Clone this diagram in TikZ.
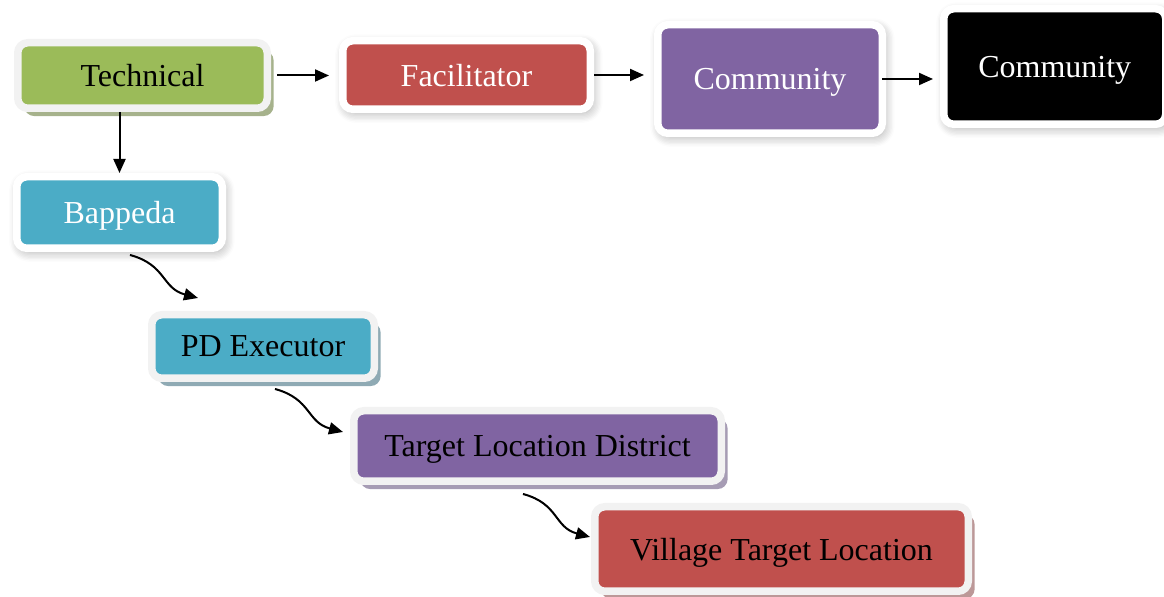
\documentclass[tikz,border=0pt]{standalone}
\usepackage{fontspec}
\setmainfont{Liberation Serif}
\usepackage{tikz}
\usetikzlibrary{
  shadows,               % Drop shadows under the boxes
  shadows.blur,          % Soft shadows under the white frames
  arrows.meta            % Triangle arrow tips
}

\definecolor{techgreen}{HTML}{9BBB59}
\definecolor{techshade}{RGB}{166,178,140}
\definecolor{seablue}{HTML}{4BACC6}
\definecolor{seashade}{RGB}{143,170,180}
\definecolor{brickred}{HTML}{C0504D}
\definecolor{brickshade}{RGB}{188,152,152}
\definecolor{lavender}{HTML}{8064A2}
\definecolor{lavshade}{RGB}{166,156,180}
\definecolor{framegrey}{HTML}{F2F2F2}

\tikzset{
  box/.style={rounded corners=5pt, line width=3.75pt, inner sep=0pt, text depth=0pt,
    font=\fontsize{16}{19}\selectfont},
  greybox/.style={box, draw=framegrey,
    drop shadow={shadow xshift=3.2pt, shadow yshift=-3.9pt, fill=#1, opacity=1}},
  whitebox/.style={box, draw=white,
    blur shadow={shadow xshift=1.2pt, shadow yshift=-1.8pt, shadow blur radius=5pt,
      shadow blur steps=8, shadow opacity=35}},
  flow/.style={-{Triangle[length=7pt,width=6pt]}, line width=1pt}
}

\begin{document}
\begin{tikzpicture}[x=0.5pt, y=-0.5pt]
        \useasboundingbox (0,0) rectangle (1164,597);

        % Top row
        \node[greybox=techshade, fill=techgreen, minimum width=124.75pt, minimum height=32.75pt]
            (tech) at (142.5,75.5) {Technical};
        \node[whitebox, fill=brickred, text=white, minimum width=123.75pt, minimum height=34.25pt]
            (facil) at (466.5,75) {Facilitator};
        \node[whitebox, fill=lavender, text=white, minimum width=112.25pt, minimum height=54.25pt]
            (comm) at (770,79) {Community};
        \node[whitebox, fill=black, text=white, minimum width=111pt, minimum height=57.75pt]
            (commend) at (1054.75,66.5) {Community};

        % Staircase of boxes
        \node[whitebox, fill=seablue, text=white, minimum width=102.75pt, minimum height=35.75pt]
            (bappeda) at (119.5,212.5) {Bappeda};
        \node[greybox=seashade, fill=seablue, minimum width=111.25pt, minimum height=31.75pt]
            (pd) at (263,346.5) {PD Executor};
        \node[greybox=lavshade, fill=lavender, minimum width=183.75pt, minimum height=35.25pt]
            (district) at (537.5,446) {Target Location District};
        \node[greybox=brickshade, fill=brickred, minimum width=186.75pt, minimum height=42.25pt]
            (village) at (781.5,549) {Village Target Location};

        % Straight arrows
        \draw[flow, shorten <=3pt, shorten >=5pt] (tech.east) -- (tech.east -| facil.west);
        \draw[flow, shorten >=5pt] (facil.east) -- (facil.east -| comm.west);
        \draw[flow, shorten <=-2pt, shorten >=3.5pt] (comm.east) -- (comm.east -| commend.west);
        \draw[flow] (tech.south -| bappeda.north) -- (bappeda.north);

        % Curved arrows between the steps
        \coordinate (b1) at (130,255);
        \coordinate (b2) at (198,298);
        \coordinate (p1) at (275,389);
        \coordinate (p2) at (343,432);
        \coordinate (d1) at (523,494);
        \coordinate (d2) at (590,537);
        \draw[flow] (b1) to[out=-15, in=165, looseness=1.2] (b2);
        \draw[flow] (p1) to[out=-15, in=165, looseness=1.2] (p2);
        \draw[flow] (d1) to[out=-15, in=165, looseness=1.2] (d2);
    \end{tikzpicture}
\end{document}
